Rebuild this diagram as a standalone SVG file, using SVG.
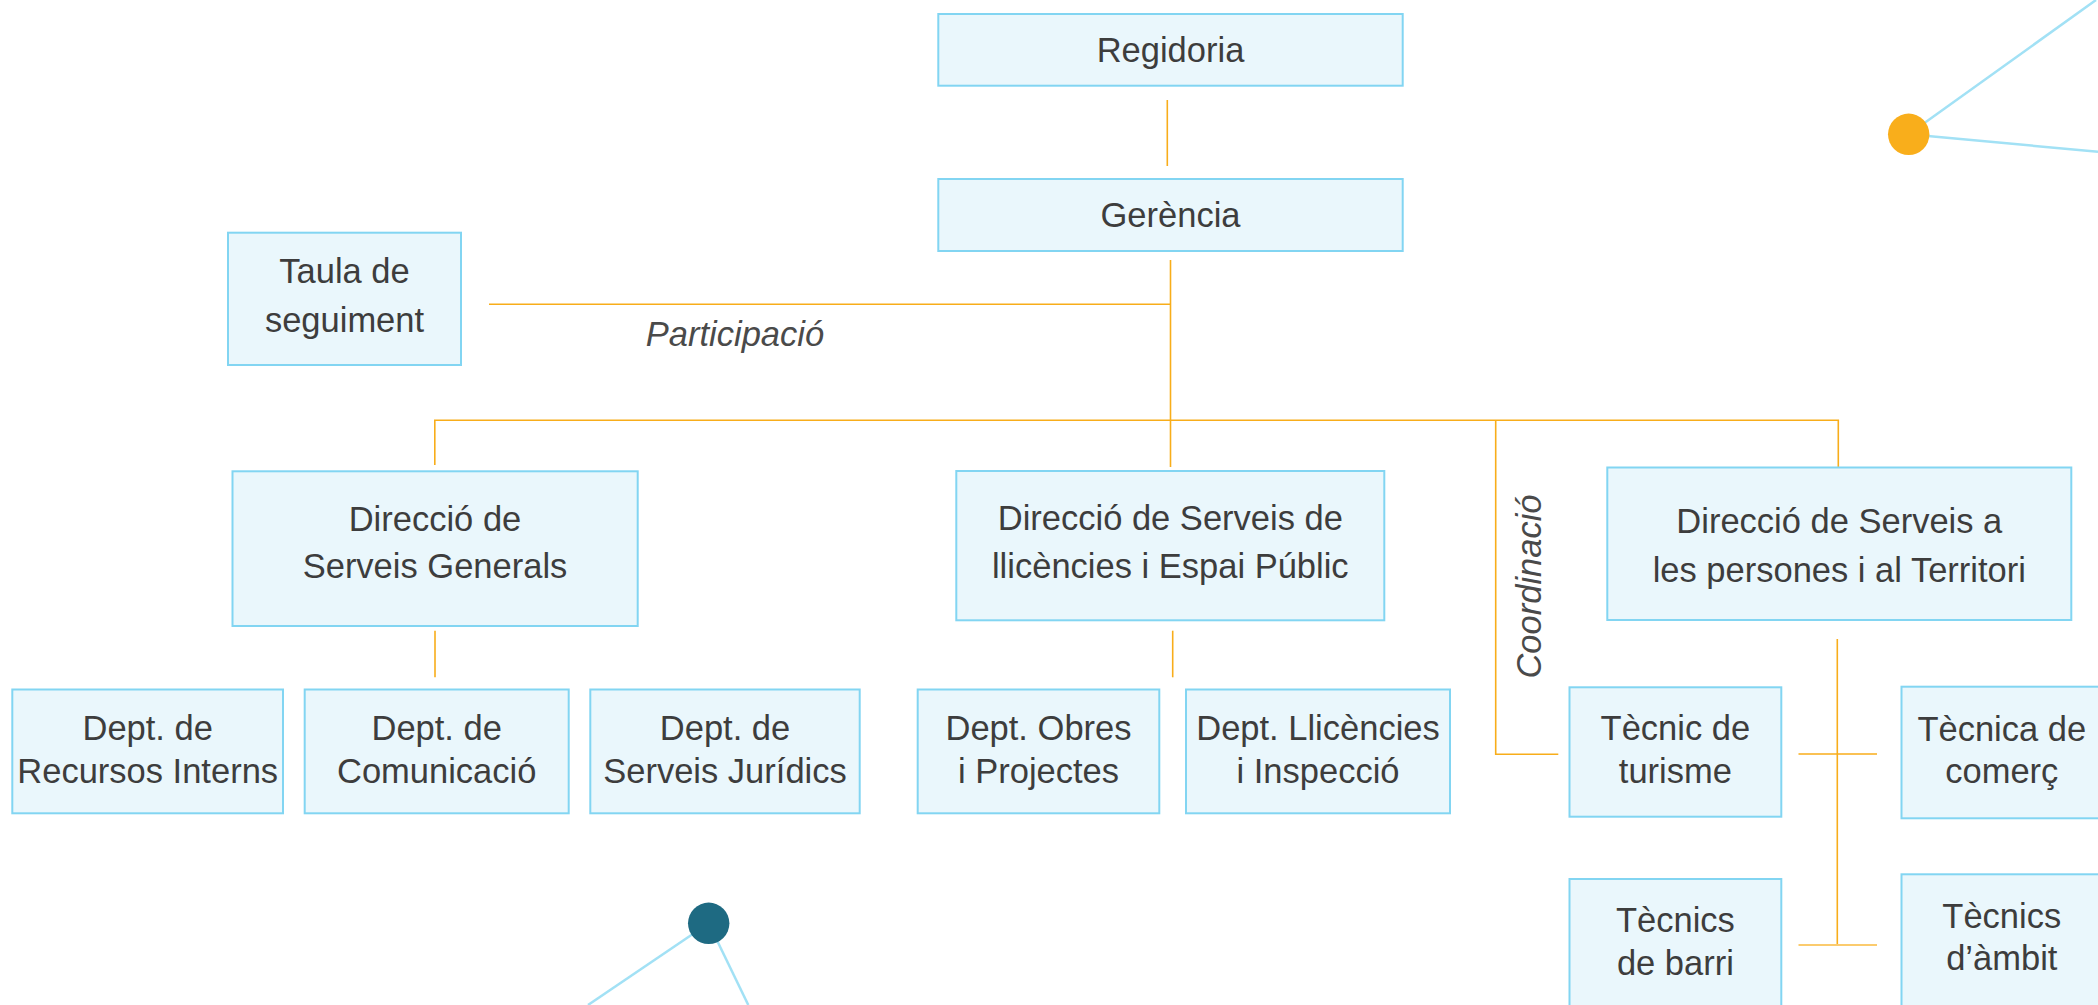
<svg xmlns="http://www.w3.org/2000/svg" width="2098" height="1005" viewBox="0 0 2098 1005">
<style>
.box{fill:#eaf7fc;stroke:#82d5f2;stroke-width:2}
.t{font-family:"Liberation Sans",Arial,sans-serif;font-size:34.5px;fill:#3d3d3d;text-anchor:middle}
.lbl{font-family:"Liberation Sans",Arial,sans-serif;font-size:34.5px;fill:#4a4a4a;font-style:italic;text-anchor:middle}
.c{fill:none;stroke:#f8ad1a;stroke-width:1.6}
.deco{stroke:#a2e1f5;stroke-width:2.5;fill:none}
</style>
<rect width="2098" height="1005" fill="#ffffff"/>
<g id="decoration">
<line class="deco" x1="1908.7" y1="134.3" x2="2096" y2="0"/>
<line class="deco" x1="1908.7" y1="134.3" x2="2098" y2="151.7"/>
<circle cx="1908.7" cy="134.3" r="20.7" fill="#f9ae1b"/>
<line class="deco" x1="708.7" y1="923.3" x2="588" y2="1005"/>
<line class="deco" x1="708.7" y1="923.3" x2="748.3" y2="1005"/>
<circle cx="708.7" cy="923.3" r="20.7" fill="#1e6a82"/>
</g>
<g id="connectors">
<line class="c" x1="1167.3" y1="100" x2="1167.3" y2="166"/>
<line class="c" x1="1170.5" y1="260" x2="1170.5" y2="467"/>
<line class="c" x1="489" y1="304.3" x2="1170.5" y2="304.3"/>
<polyline class="c" points="434.8,465 434.8,420.3 1838.3,420.3 1838.3,467.3"/>
<polyline class="c" points="1495.7,420.3 1495.7,754.3 1558.3,754.3"/>
<line class="c" x1="435" y1="630.7" x2="435" y2="677.3"/>
<line class="c" x1="1172.7" y1="630.7" x2="1172.7" y2="677.3"/>
<line class="c" x1="1837.3" y1="639" x2="1837.3" y2="945"/>
<line class="c" x1="1798.5" y1="754" x2="1877" y2="754"/>
<line x1="1798.5" y1="945" x2="1877" y2="945" stroke="#fbcb6e" stroke-width="2"/>
<text class="lbl" x="735" y="346">Participació</text>
<text class="lbl" transform="translate(1541,586.5) rotate(-90)">Coordinació</text>
</g>
<g id="regidoria">
<rect class="box" x="938.3" y="14" width="464.4" height="71.7"/>
<text class="t" x="1170.5" y="61.7">Regidoria</text>
</g>
<g id="gerencia">
<rect class="box" x="938.3" y="179" width="464.4" height="72"/>
<text class="t" x="1170.5" y="226.7">Gerència</text>
</g>
<g id="taula">
<rect class="box" x="228" y="232.7" width="233" height="132.3"/>
<text class="t" x="344.5" y="283.3">Taula de</text>
<text class="t" x="344.5" y="331.7">seguiment</text>
</g>
<g id="dir-sg">
<rect class="box" x="232.5" y="471.3" width="405.2" height="154.7"/>
<text class="t" x="435" y="530.7">Direcció de</text>
<text class="t" x="435" y="578">Serveis Generals</text>
</g>
<g id="dir-slep">
<rect class="box" x="956.3" y="471" width="428" height="149.3"/>
<text class="t" x="1170.3" y="530">Direcció de Serveis de</text>
<text class="t" x="1170.3" y="578.3">llicències i Espai Públic</text>
</g>
<g id="dir-spt">
<rect class="box" x="1607.3" y="467.5" width="464" height="152.5"/>
<text class="t" x="1839.3" y="533.3">Direcció de Serveis a</text>
<text class="t" x="1839.3" y="581.7">les persones i al Territori</text>
</g>
<g id="dept-ri">
<rect class="box" x="12.3" y="689.5" width="270.7" height="123.8"/>
<text class="t" x="147.7" y="740">Dept. de</text>
<text class="t" x="147.7" y="783.3">Recursos Interns</text>
</g>
<g id="dept-com">
<rect class="box" x="304.7" y="689.5" width="264" height="123.8"/>
<text class="t" x="436.7" y="740">Dept. de</text>
<text class="t" x="436.7" y="783.3">Comunicació</text>
</g>
<g id="dept-sj">
<rect class="box" x="590.3" y="689.5" width="269.4" height="123.8"/>
<text class="t" x="725" y="740">Dept. de</text>
<text class="t" x="725" y="783.3">Serveis Jurídics</text>
</g>
<g id="dept-op">
<rect class="box" x="917.7" y="689.5" width="241.6" height="123.8"/>
<text class="t" x="1038.5" y="740">Dept. Obres</text>
<text class="t" x="1038.5" y="783.3">i Projectes</text>
</g>
<g id="dept-li">
<rect class="box" x="1186" y="689.5" width="264" height="123.8"/>
<text class="t" x="1318" y="740">Dept. Llicències</text>
<text class="t" x="1318" y="783.3">i Inspecció</text>
</g>
<g id="tec-tur">
<rect class="box" x="1569.5" y="687.3" width="211.8" height="129.4"/>
<text class="t" x="1675.4" y="740">Tècnic de</text>
<text class="t" x="1675.4" y="783.3">turisme</text>
</g>
<g id="tec-com">
<rect class="box" x="1901.5" y="686.7" width="201" height="131.6"/>
<text class="t" x="2001.8" y="741">Tècnica de</text>
<text class="t" x="2001.8" y="783.3">comerç</text>
</g>
<g id="tec-barri">
<rect class="box" x="1569.5" y="879" width="211.8" height="140"/>
<text class="t" x="1675.4" y="931.7">Tècnics</text>
<text class="t" x="1675.4" y="975">de barri</text>
</g>
<g id="tec-ambit">
<rect class="box" x="1901.5" y="874.3" width="201" height="145"/>
<text class="t" x="2001.8" y="928.3">Tècnics</text>
<text class="t" x="2001.8" y="970">d’àmbit</text>
</g>
</svg>
